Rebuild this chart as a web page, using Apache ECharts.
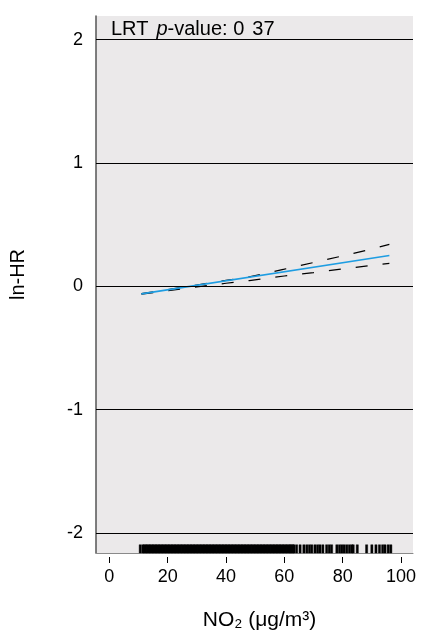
<!DOCTYPE html>
<html>
<head>
<meta charset="utf-8">
<script src="https://cdn.jsdelivr.net/npm/echarts@6/dist/echarts.min.js"></script>
<style>html,body{margin:0;padding:0;background:#fff;}#c{width:425px;height:635px;}</style>
</head>
<body>
<div id="c"></div>
<script>
// ---- data ----
var fitX = [11, 96];
var fitY = [-0.061, 0.250];
var ciX = [11, 20, 30, 40, 48, 60, 70, 80, 90, 96];
var upperY = [-0.058, -0.026, 0.011, 0.048, 0.077, 0.139, 0.193, 0.247, 0.303, 0.340];
var lowerY = [-0.064, -0.036, -0.005, 0.025, 0.047, 0.084, 0.111, 0.142, 0.170, 0.186];
var gridLevels = [-2, -1, 0, 1, 2];
var yTicks = [-2, -1, 0, 1, 2];
var xTicks = [0, 20, 40, 60, 80, 100];
var rugX = [10.6,
 11.5,12,12.5,13,13.5,14,14.5,15,15.5,16,16.5,17,17.5,18,18.5,19,19.5,20,20.5,21,21.5,22,22.5,23,23.5,24,24.5,25,25.5,26,26.5,27,27.5,28,28.5,29,29.5,30,30.5,31,31.5,32,32.5,33,33.5,34,34.5,35,35.5,36,36.5,37,37.5,38,38.5,39,39.5,40,40.5,41,41.5,42,42.5,43,43.5,44,44.5,45,45.5,46,46.5,47,47.5,48,48.5,49,49.5,50,50.5,51,51.5,52,52.5,53,53.5,54,54.5,55,55.5,56,56.5,57,57.5,58,58.5,59,59.5,60,60.5,61,61.5,62,
 62.4,62.9,63.3,64.2,65.4,66.7,67.7,68.6,69.4,70.5,71.4,72.2,73.2,74.5,75.4,76.2,78.0,78.9,79.7,80.5,81.4,82.3,83.1,83.6,85.0,88.2,90.0,91.4,92.6,93.7,94.5,95.6,96.5];
var rugTop = -2.095;
var rugBottom = -2.162;

function pairs(xs, ys) { return xs.map(function (x, i) { return [x, ys[i]]; }); }

var FONT = 'Liberation Sans';
var chart = echarts.init(document.getElementById('c'), null, {renderer: 'canvas'});
var base = {fontFamily: FONT, fontSize: 20, color: '#000', fontWeight: 'normal'};
chart.setOption({
  animation: false,
  title: {
    left: 106, top: 14,
    text: '{a|LRT}{s| }{b|p}{a|-value: 0}{s| }{a|37}',
    textStyle: {
      fontWeight: 'normal',
      rich: {
        a: base,
        s: Object.assign({}, base, {width: 8}),
        b: Object.assign({}, base, {fontStyle: 'italic'})
      }
    }
  },
  grid: {
    left: 96, right: 12, top: 16, bottom: 82,
    outerBoundsMode: 'none', containLabel: false,
    show: true, backgroundColor: '#ebe9ea', borderWidth: 0
  },
  xAxis: [{
    type: 'value', min: -4.56, max: 104.1,
    axisLine: {show: true, onZero: false, lineStyle: {color: '#8a8a8a', width: 1}},
    axisTick: {show: false}, axisLabel: {show: false}, splitLine: {show: false}
  }, {
    type: 'value', min: -4.56, max: 104.1, position: 'bottom', offset: 4,
    axisLine: {show: false, onZero: false},
    axisTick: {show: true, length: 6, customValues: xTicks, lineStyle: {color: '#000', width: 1}},
    axisLabel: {customValues: xTicks, fontFamily: FONT, fontSize: 18, color: '#000', margin: 11},
    splitLine: {show: false},
    name: 'NO\u2082 (\u03bcg/m\u00b3)', nameLocation: 'middle', nameGap: 53,
    nameTextStyle: {fontFamily: FONT, fontSize: 21, color: '#000', padding: [0, 0, 0, 10]}
  }],
  yAxis: {
    type: 'value', min: -2.162, max: 2.192,
    axisLine: {show: true, onZero: false, lineStyle: {color: '#555', width: 1.5}},
    axisTick: {show: false},
    axisLabel: {customValues: yTicks, fontFamily: FONT, fontSize: 18, color: '#000', margin: 13},
    splitLine: {show: false},
    name: 'ln-HR', nameLocation: 'middle', nameRotate: 90, nameGap: 68,
    nameTextStyle: {fontFamily: FONT, fontSize: 20, color: '#000', padding: [0, 0, 0, 20]}
  },
  series: [{
    type: 'line', data: [], silent: true,
    markLine: {
      silent: true, symbol: 'none', label: {show: false},
      lineStyle: {color: '#000', width: 1, type: 'solid'},
      data: gridLevels.map(function (v) { return {yAxis: v}; })
    }
  }, {
    type: 'custom', silent: true,
    data: rugX.map(function (x) { return [x]; }),
    encode: {x: 0},
    renderItem: function (params, api) {
      var top = api.coord([api.value(0), rugTop]);
      var bot = api.coord([api.value(0), rugBottom]);
      var w = 2.2;
      return {
        type: 'rect',
        shape: {x: top[0] - w / 2, y: top[1], width: w, height: bot[1] - top[1]},
        style: {fill: '#000', stroke: '#000', lineWidth: 0.4}
      };
    }
  }, {
    type: 'line', data: pairs(ciX, upperY), showSymbol: false, silent: true,
    lineStyle: {color: '#000', width: 1.2, type: [12, 15]}
  }, {
    type: 'line', data: pairs(ciX, lowerY), showSymbol: false, silent: true,
    lineStyle: {color: '#000', width: 1.2, type: [12, 15]}
  }, {
    type: 'line', data: pairs(fitX, fitY), showSymbol: false, silent: true,
    lineStyle: {color: '#1e9de2', width: 1.6}
  }]
});
</script>
</body>
</html>
